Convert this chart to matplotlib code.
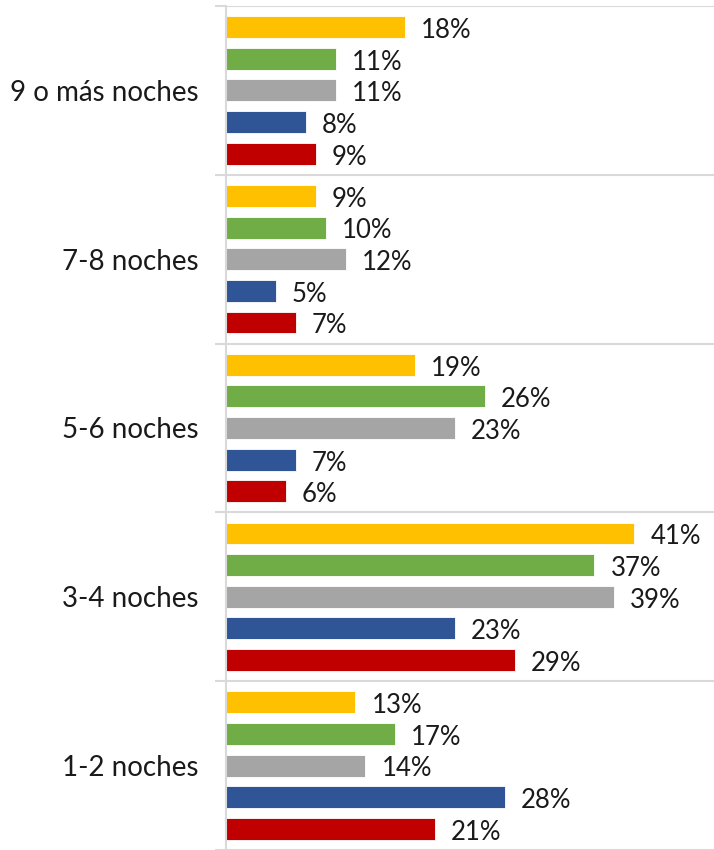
import numpy as np
import matplotlib
matplotlib.use("Agg")
import matplotlib.pyplot as plt

categories = ["9 o más noches", "7-8 noches", "5-6 noches", "3-4 noches", "1-2 noches"]
series_names = ["Serie 1", "Serie 2", "Serie 3", "Serie 4", "Serie 5"]
colors = ["#FFC000", "#70AD47", "#A5A5A5", "#2F5597", "#C00000"]

# values per series, in category order (top to bottom)
serie1 = [18, 9, 19, 41, 13]
serie2 = [11, 10, 26, 37, 17]
serie3 = [11, 12, 23, 39, 14]
serie4 = [8, 5, 7, 23, 28]
serie5 = [9, 7, 6, 29, 21]
series = [serie1, serie2, serie3, serie4, serie5]

plt.rcParams['font.family'] = ['Lato', 'DejaVu Sans']

fig = plt.figure(figsize=(7.14, 8.5), dpi=100)
ax = fig.add_axes([226 / 714, 0.0, 1 - 226 / 714, 1 - 6 / 850])

y = np.arange(len(categories))
step = 0.1875
for k, vals in enumerate(series):
    pos = y + (k - 2) * step
    bars = ax.barh(pos, vals, height=0.13, color=colors[k], edgecolor="white",
                   linewidth=0.6, label=series_names[k])
    for b, v in zip(bars, vals):
        ax.text(v + 1.6, b.get_y() + b.get_height() / 2 + 0.02, f"{v}%",
                va="center", ha="left", fontsize=18.5, color="#1a1a1a")

ax.set_xlim(0, 49)
ax.set_ylim(len(categories) - 0.5, -0.5)
ax.set_yticks(y)
ax.set_yticklabels(categories, fontsize=20, color="#1a1a1a")
ax.tick_params(axis="y", which="major", length=0, pad=20)
ax.set_yticks(np.arange(len(categories) + 1) - 0.5, minor=True)
ax.tick_params(axis="y", which="minor", length=8, width=1.5, color="#d9d9d9")
ax.grid(axis="y", which="minor", color="#d9d9d9", linewidth=1.5)
ax.set_xticks([])

for s in ["top", "right", "bottom"]:
    ax.spines[s].set_visible(False)
ax.spines["left"].set_color("#d9d9d9")
ax.spines["left"].set_linewidth(1.5)
ax.set_axisbelow(True)

fig.savefig("out.png", dpi=100)
